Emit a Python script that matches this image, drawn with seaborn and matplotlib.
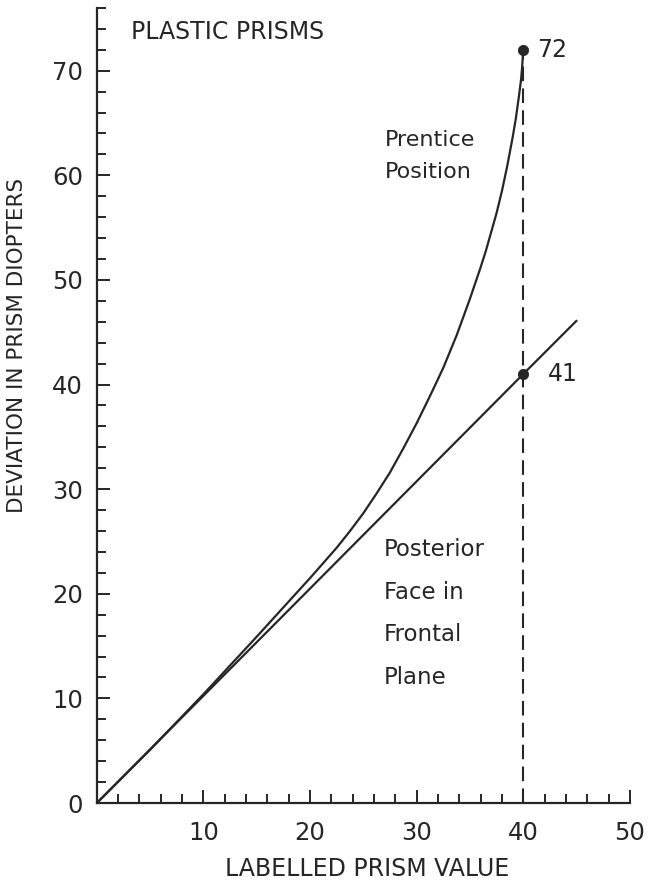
import numpy as np
import pandas as pd
import matplotlib
matplotlib.use("Agg")
import matplotlib.pyplot as plt
import seaborn as sns

# Data
prentice_x = [0, 5, 10, 15, 17.5, 20, 22.5, 23.75, 25, 26.25, 27.5, 28.75, 30, 31.25, 32.5,
              33.75, 35, 36, 36.5, 37.5, 38, 38.5, 39, 39.3, 39.6, 39.8, 39.9, 40]
prentice_y = [0, 5.1, 10.4, 15.9, 18.7, 21.5, 24.4, 26.0, 27.7, 29.6, 31.6, 33.9, 36.3, 38.9,
              41.6, 44.7, 48.2, 51.2, 52.8, 56.4, 58.5, 60.9, 63.6, 65.4, 67.6, 69.2, 70.4, 72]
posterior_x = [0, 40, 45]
posterior_y = [0, 41, 46.1]
marked_x = [40, 40]
marked_y = [72, 41]
marked_labels = ["72", "41"]

x_major = [10, 20, 30, 40, 50]
y_major = [0, 10, 20, 30, 40, 50, 60, 70]

sns.set_theme(style="ticks")
plt.rcParams['font.family'] = ['DejaVu Sans']

ink = "#262626"
fig = plt.figure(figsize=(6.5, 8.8), dpi=100)
ax = fig.add_axes([0.149, 0.0875, 0.82, 0.9035])

df_p = pd.DataFrame({"x": prentice_x, "y": prentice_y})
df_q = pd.DataFrame({"x": posterior_x, "y": posterior_y})
sns.lineplot(data=df_p, x="x", y="y", ax=ax, color=ink, lw=1.6, sort=False, estimator=None)
sns.lineplot(data=df_q, x="x", y="y", ax=ax, color=ink, lw=1.6, sort=False, estimator=None)
ax.plot([marked_x[0], marked_x[0]], [0, marked_y[0]], ls=(0, (7, 3.5)), color=ink, lw=1.5)
sns.scatterplot(x=marked_x, y=marked_y, ax=ax, color=ink, s=55, zorder=5, clip_on=False,
                edgecolor=ink)

ax.text(41.3, 72, marked_labels[0], fontsize=17, color=ink, va="center", ha="left")
ax.text(42.3, 41, marked_labels[1], fontsize=17, color=ink, va="center", ha="left")

ax.text(3.2, 73.7, "PLASTIC PRISMS", fontsize=17, color=ink, va="center", ha="left")
for txt, yy in [("Prentice", 63.4), ("Position", 60.3)]:
    ax.text(27.0, yy, txt, fontsize=16, color=ink, va="center", ha="left")
for txt, yy in [("Posterior", 24.2), ("Face in", 20.1), ("Frontal", 16.1), ("Plane", 11.95)]:
    ax.text(26.9, yy, txt, fontsize=16.5, color=ink, va="center", ha="left")

ax.set_xlim(0, 50)
ax.set_ylim(0, 76)
ax.set_xticks(x_major)
ax.set_yticks(y_major)
ax.set_xticks(np.arange(0, 51, 2), minor=True)
ax.set_yticks(np.arange(0, 77, 2), minor=True)
ax.tick_params(axis="both", which="major", direction="in", length=9.5, width=1.4,
               colors=ink, labelsize=17.5, labelcolor=ink)
ax.tick_params(axis="both", which="minor", direction="in", length=6.5, width=1.4, colors=ink)
ax.tick_params(axis="y", which="major", pad=10)
ax.tick_params(axis="x", which="major", pad=13)

for s in ["top", "right"]:
    ax.spines[s].set_visible(False)
for s in ["left", "bottom"]:
    ax.spines[s].set_color(ink)
    ax.spines[s].set_linewidth(1.6)

ax.set_xlabel("LABELLED PRISM VALUE", fontsize=17, color=ink)
ax.set_ylabel("DEVIATION IN PRISM DIOPTERS", fontsize=15.5, color=ink)
ax.xaxis.set_label_coords(0.508, -0.068)
ax.yaxis.set_label_coords(-0.131, 0.576)

fig.savefig("out.png", dpi=100, facecolor="white")
